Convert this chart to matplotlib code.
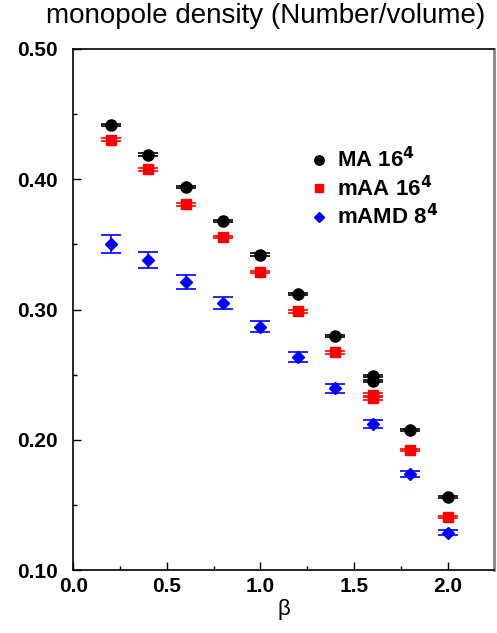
import matplotlib
matplotlib.use("Agg")
import matplotlib.pyplot as plt
from matplotlib.ticker import MultipleLocator, FormatStrFormatter

plt.rcParams['font.family'] = ['Liberation Sans', 'DejaVu Sans']

# MA 16^4
beta_ma = [0.2, 0.4, 0.6, 0.8, 1.0, 1.2, 1.4, 1.6, 1.6, 1.8, 2.0]
rho_ma = [0.442, 0.419, 0.394, 0.368, 0.342, 0.312, 0.280, 0.249, 0.245, 0.2075, 0.156]
err_ma = [0.0008, 0.0012, 0.0010, 0.0010, 0.0010, 0.0008, 0.0008, 0.0010, 0.0010, 0.0008, 0.0008]

# mAA 16^4
beta_maa = [0.2, 0.4, 0.6, 0.8, 1.0, 1.2, 1.4, 1.6, 1.6, 1.8, 2.0]
rho_maa = [0.4305, 0.4075, 0.3808, 0.3556, 0.3287, 0.2985, 0.2672, 0.2345, 0.2320, 0.1918, 0.1410]
err_maa = [0.0012, 0.0012, 0.0012, 0.0010, 0.0010, 0.0012, 0.0010, 0.0012, 0.0012, 0.0008, 0.0008]

# mAMD 8^4
beta_mamd = [0.2, 0.4, 0.6, 0.8, 1.0, 1.2, 1.4, 1.6, 1.8, 2.0]
rho_mamd = [0.3505, 0.3379, 0.3213, 0.3049, 0.2869, 0.2636, 0.2395, 0.2118, 0.1736, 0.1287]
err_mamd = [0.0068, 0.0060, 0.0053, 0.0047, 0.0043, 0.0036, 0.0033, 0.0030, 0.0025, 0.0022]

fig = plt.figure(figsize=(4.97, 6.33), dpi=100)
ax = fig.add_axes([0.1475, 0.0995, 0.8471, 0.8231])

e1 = ax.errorbar(beta_ma, rho_ma, yerr=err_ma, fmt='o', color='black', ms=8,
                 capsize=7, elinewidth=1.2, capthick=1.2)
e2 = ax.errorbar(beta_maa, rho_maa, yerr=err_maa, fmt='s', color='#ff0000', ms=7,
                 capsize=7, elinewidth=1.2, capthick=1.2)
e3 = ax.errorbar(beta_mamd, rho_mamd, yerr=err_mamd, fmt='D', color='#0000ff', ms=6,
                 capsize=7, elinewidth=1.2, capthick=1.2)

ax.set_xlim(0, 2.25)
ax.set_ylim(0.10, 0.50)
ax.xaxis.set_major_locator(MultipleLocator(0.5))
ax.xaxis.set_minor_locator(MultipleLocator(0.25))
ax.yaxis.set_major_locator(MultipleLocator(0.1))
ax.yaxis.set_minor_locator(MultipleLocator(0.05))
ax.xaxis.set_major_formatter(FormatStrFormatter('%.1f'))
ax.yaxis.set_major_formatter(FormatStrFormatter('%.2f'))
ax.tick_params(which='both', direction='in', top=False, right=False, width=1)
ax.tick_params(which='major', length=6, labelsize=15, pad=5)
ax.tick_params(which='minor', length=3)
ax.tick_params(axis='y', pad=11)
for lbl in ax.get_xticklabels() + ax.get_yticklabels():
    lbl.set_fontweight('bold')

for side in ['left', 'bottom', 'top']:
    ax.spines[side].set_linewidth(1.2)
ax.spines['right'].set_color('#888888')
ax.spines['right'].set_linewidth(2)

ax.set_xlabel('β', fontsize=16, labelpad=2)
fig.text(0.535, 0.975, 'monopole density (Number/volume)', ha='center', va='center', fontsize=20)

labels = [r'MA 16$^{\mathbf{4}}$', r'mAA 16$^{\mathbf{4}}$', r'mAMD 8$^{\mathbf{4}}$']
leg = ax.legend([e1[0], e2[0], e3[0]], labels, loc='upper left',
                bbox_to_anchor=(0.516, 0.85), frameon=False,
                handlelength=0.8, handletextpad=0.4, labelspacing=0.15,
                prop={'weight': 'bold', 'size': 16}, markerscale=0.85)

fig.savefig('out.png', dpi=100)
